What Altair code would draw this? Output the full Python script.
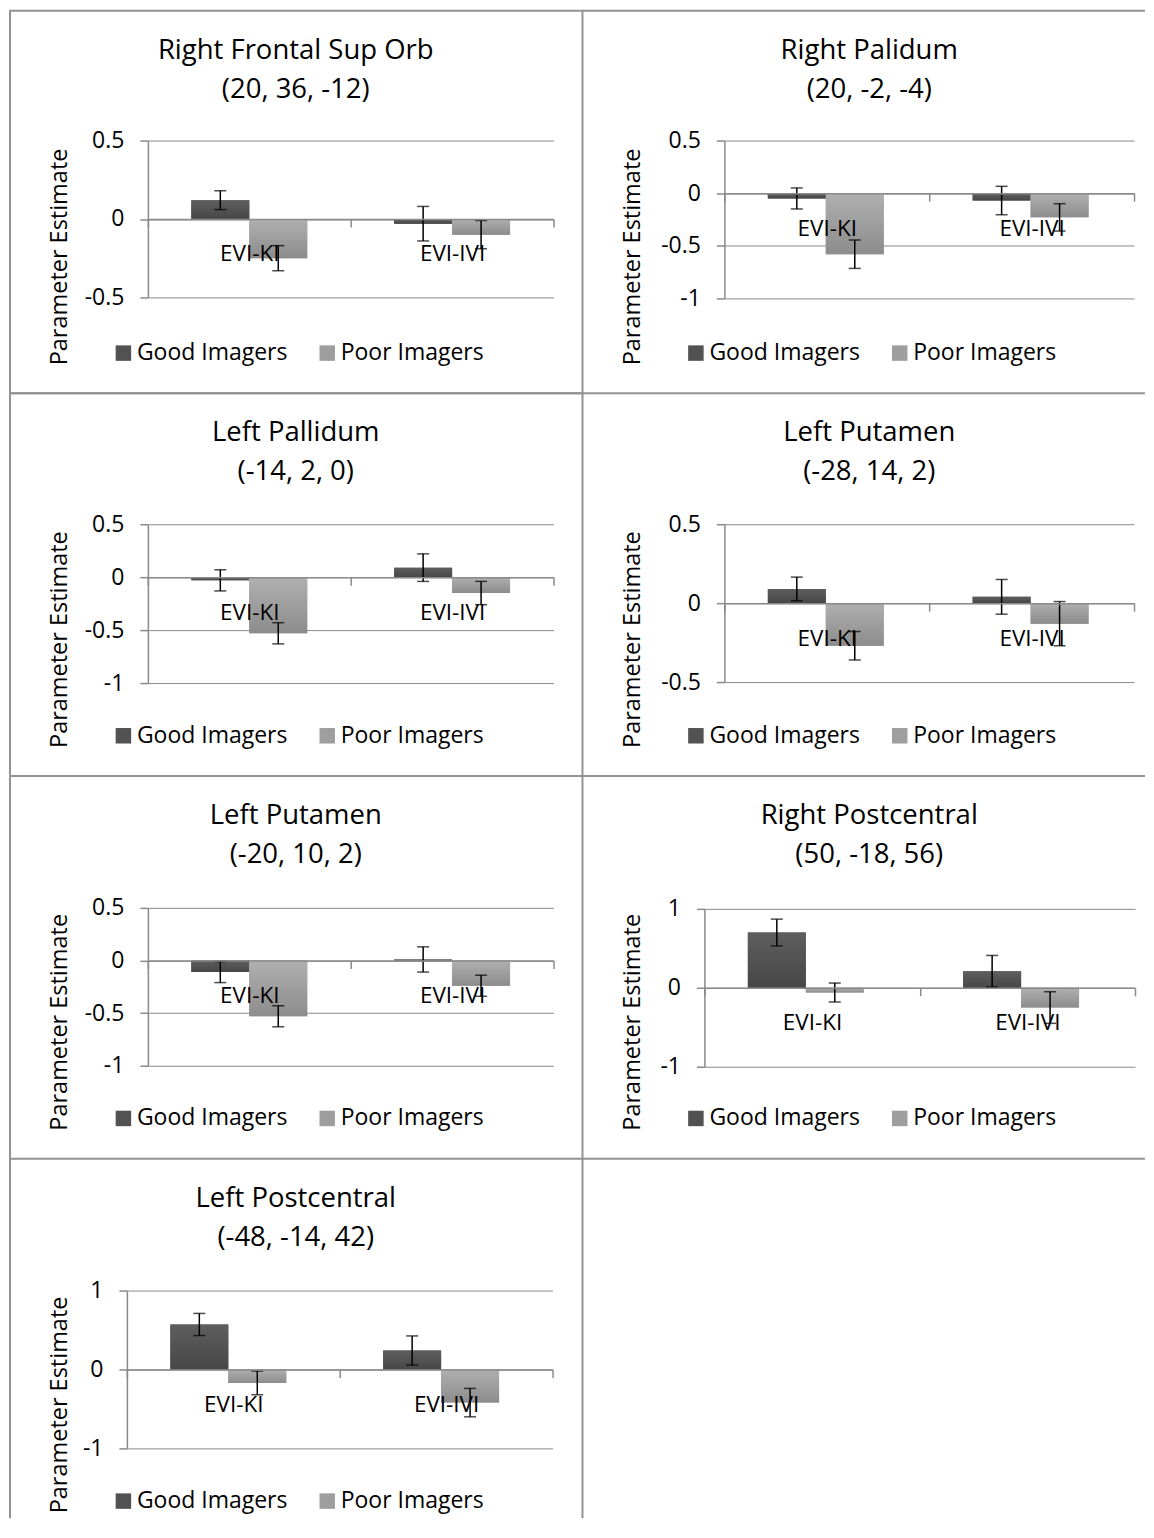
import altair as alt
import pandas as pd

# ---------------- data ----------------
categories = ["EVI-KI", "EVI-IVI"]
series = ["Good Imagers", "Poor Imagers"]

title_line1 = ["Right Frontal Sup Orb", "Right Palidum", "Left Pallidum", "Left Putamen",
               "Left Putamen", "Right Postcentral", "Left Postcentral"]
title_line2 = ["(20, 36, -12)", "(20, -2, -4)", "(-14, 2, 0)", "(-28, 14, 2)",
               "(-20, 10, 2)", "(50, -18, 56)", "(-48, -14, 42)"]

# values per panel: [EVI-KI, EVI-IVI]
good_values = [[0.12, -0.03], [-0.05, -0.07], [-0.03, 0.09], [0.09, 0.04],
               [-0.11, 0.01], [0.70, 0.21], [0.57, 0.24]]
poor_values = [[-0.25, -0.10], [-0.58, -0.23], [-0.53, -0.15], [-0.27, -0.13],
               [-0.53, -0.24], [-0.06, -0.25], [-0.17, -0.42]]
good_errors = [[0.06, 0.11], [0.10, 0.135], [0.10, 0.13], [0.075, 0.11],
               [0.10, 0.12], [0.17, 0.20], [0.14, 0.185]]
poor_errors = [[0.08, 0.09], [0.135, 0.13], [0.10, 0.11], [0.09, 0.14],
               [0.10, 0.10], [0.12, 0.20], [0.15, 0.18]]

y_min = [-0.5, -1, -1, -0.5, -1, -1, -1]
y_max = [0.5, 0.5, 0.5, 0.5, 0.5, 1, 1]
y_ticks = [[-0.5, 0, 0.5], [-1, -0.5, 0, 0.5], [-1, -0.5, 0, 0.5], [-0.5, 0, 0.5],
           [-1, -0.5, 0, 0.5], [-1, 0, 1], [-1, 0, 1]]

# ---------------- layout / style ----------------
axis_x = [138, 142, 138, 142, 138, 122, 117]
axis_x_end = [544, 552, 544, 552, 544, 553, 543]
plot_top = [130, 130, 131, 131, 132, 133, 132]
plot_bottom = [287, 288, 290, 289, 290, 291, 290]
panel_w = [573, 563, 573, 563, 573, 563, 573]
panel_h = [383, 383, 383, 383, 383, 383, 360]
title_cx = [286, 287, 286, 287, 286, 287, 286]

FONT = "Open Sans"
GOOD = "#525252"
POOR = "#9e9e9e"
GOOD_GRAD = ["#5e5e5e", "#474747"]
POOR_GRAD = ["#b0b0b0", "#8c8c8c"]
AXIS = "#8a8a8a"
BORDER = "#939393"


def gradient(stops):
    return alt.Gradient(gradient="linear", x1=0, x2=0, y1=0, y2=1,
                        stops=[alt.GradientStop(color=stops[0], offset=0),
                               alt.GradientStop(color=stops[1], offset=1)])


def border_rule(x, y, x2=None, y2=None):
    enc = dict(x=alt.value(x), y=alt.value(y))
    if x2 is not None:
        enc["x2"] = alt.value(x2)
    if y2 is not None:
        enc["y2"] = alt.value(y2)
    return alt.Chart(pd.DataFrame({"k": [0]})).mark_rule(
        color=BORDER, strokeWidth=2).encode(**enc)


def make_panel(i):
    W, H = panel_w[i], panel_h[i]
    rows = []
    for c, cat in enumerate(categories):
        rows.append(dict(region=cat, group=series[0], value=good_values[i][c], err=good_errors[i][c]))
        rows.append(dict(region=cat, group=series[1], value=poor_values[i][c], err=poor_errors[i][c]))
    df = pd.DataFrame(rows)
    df["lo"] = df["value"] - df["err"]
    df["hi"] = df["value"] + df["err"]

    xa, xe, yt, yb = axis_x[i], axis_x_end[i], plot_top[i], plot_bottom[i]
    zero_px = yb - (0 - y_min[i]) / (y_max[i] - y_min[i]) * (yb - yt)

    x_enc = alt.X(
        "region:N", sort=categories,
        scale=alt.Scale(domain=categories, range=[xa, xe], paddingInner=0, paddingOuter=0),
        axis=alt.Axis(title=None, orient="bottom", offset=zero_px - H, tickBand="extent",
                      tickSize=8, tickColor=AXIS, tickWidth=1.5, domainColor=AXIS,
                      domainWidth=1.5, labelAngle=0, labelFont=FONT, labelFontSize=22.5,
                      labelColor="black", labelPadding=16, grid=False, zindex=1),
    )
    xo_enc = alt.XOffset("group:N", sort=series,
                         scale=alt.Scale(domain=series, paddingInner=0, paddingOuter=0.75))
    y_scale = alt.Scale(domain=[y_min[i], y_max[i]], range=[yb, yt], nice=False, zero=False)
    y_axis = alt.Axis(values=y_ticks[i], offset=-xa, grid=True, gridColor=AXIS, gridWidth=1,
                      tickSize=8, tickColor=AXIS, tickWidth=1.5, domainColor=AXIS,
                      domainWidth=1.5, labelFont=FONT, labelFontSize=23, labelColor="black",
                      labelPadding=16, labelExpr="'' + datum.value",
                      title="Parameter Estimate", titleFont=FONT, titleFontSize=23.5,
                      titleFontWeight="normal", titleColor="black", titleX=50 - xa,
                      titleY=246, titleAngle=270, titleAlign="center",
                      titleBaseline="middle", zindex=0)

    y_val = alt.Y("value:Q", scale=y_scale, axis=y_axis)
    bars = alt.Chart(df).mark_bar().encode(
        x=x_enc, xOffset=xo_enc, y=y_val, y2=alt.datum(0),
        color=alt.Color("group:N", sort=series,
                        scale=alt.Scale(domain=series, range=[GOOD, POOR]),
                        legend=alt.Legend(orient="none", legendX=102, legendY=331,
                                          direction="horizontal", title=None,
                                          symbolType="square", symbolSize=240,
                                          symbolStrokeWidth=0, labelFont=FONT,
                                          labelFontSize=23, labelColor="black",
                                          labelOffset=2, columnPadding=28, padding=0)),
    )
    good_fill = alt.Chart(df).transform_filter(alt.datum.group == series[0]).mark_bar(
        color=gradient(GOOD_GRAD)).encode(x=x_enc, xOffset=xo_enc, y=y_val, y2=alt.datum(0))
    poor_fill = alt.Chart(df).transform_filter(alt.datum.group == series[1]).mark_bar(
        color=gradient(POOR_GRAD)).encode(x=x_enc, xOffset=xo_enc, y=y_val, y2=alt.datum(0))

    rules = alt.Chart(df).mark_rule(color="black", strokeWidth=1.5).encode(
        x=x_enc, xOffset=xo_enc,
        y=alt.Y("lo:Q", scale=y_scale, axis=y_axis), y2="hi:Q",
    )
    caps_hi = alt.Chart(df).mark_tick(color="black", thickness=1.5, size=12,
                                      orient="horizontal").encode(
        x=x_enc, xOffset=xo_enc, y=alt.Y("hi:Q", scale=y_scale, axis=y_axis))
    caps_lo = alt.Chart(df).mark_tick(color="black", thickness=1.5, size=12,
                                      orient="horizontal").encode(
        x=x_enc, xOffset=xo_enc, y=alt.Y("lo:Q", scale=y_scale, axis=y_axis))

    t1 = alt.Chart(pd.DataFrame({"t": [title_line1[i]]})).mark_text(
        font=FONT, fontSize=27.5, color="black", align="center", baseline="middle"
    ).encode(text="t:N", x=alt.value(title_cx[i]), y=alt.value(40))
    t2 = alt.Chart(pd.DataFrame({"t": [title_line2[i]]})).mark_text(
        font=FONT, fontSize=27.5, color="black", align="center", baseline="middle"
    ).encode(text="t:N", x=alt.value(title_cx[i]), y=alt.value(79))

    layers = [bars, good_fill, poor_fill, rules, caps_hi, caps_lo, t1, t2]
    if i == 6:
        layers += [border_rule(0, 0, y2=H), border_rule(W, 0, y2=H)]
        return alt.layer(*layers).properties(width=W, height=H,
                                             view=alt.ViewBackground(strokeOpacity=0))
    if i % 2 == 1:
        layers += [border_rule(0, 0, x2=W)]
        if i == 5:
            layers += [border_rule(0, H, x2=W)]
        return alt.layer(*layers).properties(width=W, height=H,
                                             view=alt.ViewBackground(strokeOpacity=0))
    return alt.layer(*layers).properties(width=W, height=H)


p = [make_panel(i) for i in range(7)]

chart = alt.concat(*p, columns=2, spacing=0, bounds="flush", align="none").resolve_scale(
    color="independent"
).resolve_legend(color="independent").configure_view(
    stroke=BORDER, strokeWidth=2
).properties(padding={"left": 1, "top": 1, "right": 0, "bottom": 0})

chart.save("out.html", embed_options={"renderer": "svg", "actions": False})
